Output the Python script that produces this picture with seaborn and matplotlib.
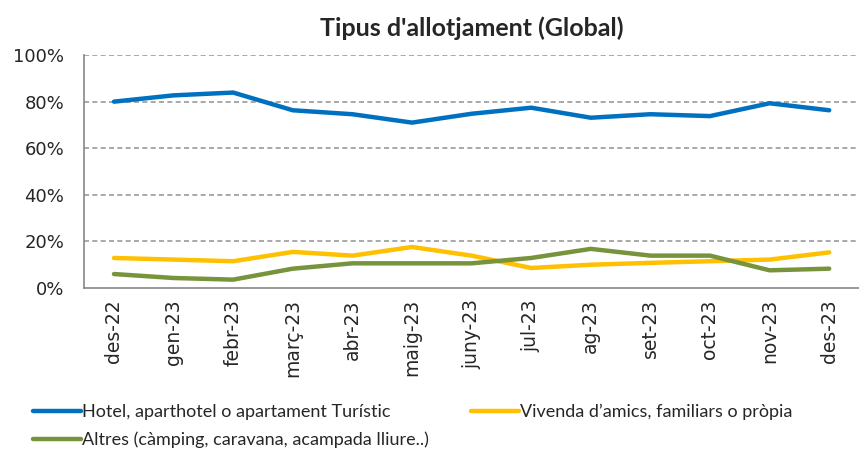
import pandas as pd
import numpy as np
import matplotlib.pyplot as plt
import seaborn as sns
from matplotlib.ticker import PercentFormatter

# ----- DADES -----
mesos = ["des-22", "gen-23", "febr-23", "març-23", "abr-23", "maig-23", "juny-23",
         "jul-23", "ag-23", "set-23", "oct-23", "nov-23", "des-23"]
hotel = [80.0, 82.7, 83.9, 76.3, 74.6, 71.0, 74.8, 77.4, 73.1, 74.6, 73.8, 79.3, 76.3]
vivenda = [12.9, 12.2, 11.5, 15.5, 13.9, 17.6, 13.9, 8.6, 10.0, 10.8, 11.5, 12.2, 15.3]
altres = [6.0, 4.3, 3.6, 8.3, 10.6, 10.6, 10.6, 12.9, 16.8, 13.9, 13.9, 7.6, 8.3]

noms = ["Hotel, aparthotel o apartament Turístic",
        "Vivenda d\u2019amics, familiars o pròpia",
        "Altres (càmping, caravana, acampada lliure..)"]
colors = ["#0070C0", "#FFC000", "#77933C"]

df = pd.DataFrame({"mes": mesos * 3,
                   "pos": list(range(len(mesos))) * 3,
                   "valor": hotel + vivenda + altres,
                   "serie": [noms[0]] * 13 + [noms[1]] * 13 + [noms[2]] * 13})

# ----- ESTIL -----
sns.set_style("white")
plt.rcParams["font.family"] = ["Lato", "DejaVu Sans"]

fig = plt.figure(figsize=(8.59, 4.55), dpi=100)
ax = fig.add_axes([0.098, 0.367, 0.902, 0.512])

sns.lineplot(data=df, x="pos", y="valor", hue="serie", palette=colors,
             hue_order=noms, linewidth=3.2, ax=ax, legend=False)

ax.set_xlim(-0.5, len(mesos) - 0.5)
ax.set_ylim(0, 100)
ax.set_yticks(np.arange(0, 101, 20))
ax.yaxis.set_major_formatter(PercentFormatter(decimals=0))
ax.set_xticks(range(len(mesos)))
ax.set_xticklabels(mesos, rotation=90, fontsize=13.5, family="DejaVu Sans")
for lab in ax.get_yticklabels():
    lab.set_family("DejaVu Sans")
ax.tick_params(axis="y", labelsize=13, length=9, direction="inout",
               color="#888888", width=1.2, pad=10)
ax.tick_params(axis="x", which="major", length=0, pad=8)
ax.set_xticks(np.arange(-0.5, len(mesos), 1), minor=True)
ax.tick_params(axis="x", which="minor", length=6, color="#888888", width=1.2,
               direction="out")
ax.set_xlabel("")
ax.set_ylabel("")

for y in [20, 40, 60, 80, 100]:
    ax.axhline(y, color="#999999", linestyle=(0, (3, 2)), linewidth=1.2, zorder=0)

for side in ["top", "right"]:
    ax.spines[side].set_visible(False)
for side in ["left", "bottom"]:
    ax.spines[side].set_color("#888888")
    ax.spines[side].set_linewidth(1.2)

ax.set_title("Tipus d'allotjament (Global)", fontsize=18, fontweight="bold", pad=14)

# ----- LLEGENDA -----
h = [plt.Line2D([], [], color=c, linewidth=3.2) for c in colors]
opts = dict(loc="upper left", frameon=False, fontsize=13, handlelength=2.7,
            handletextpad=0.05, labelspacing=0.65, borderpad=0, borderaxespad=0)
fig.legend([h[0], h[2]], [noms[0], noms[2]], bbox_to_anchor=(0.038, 0.112), **opts)
fig.legend([h[1]], [noms[1]], bbox_to_anchor=(0.548, 0.112), **opts)

fig.savefig("out.png", dpi=100)
